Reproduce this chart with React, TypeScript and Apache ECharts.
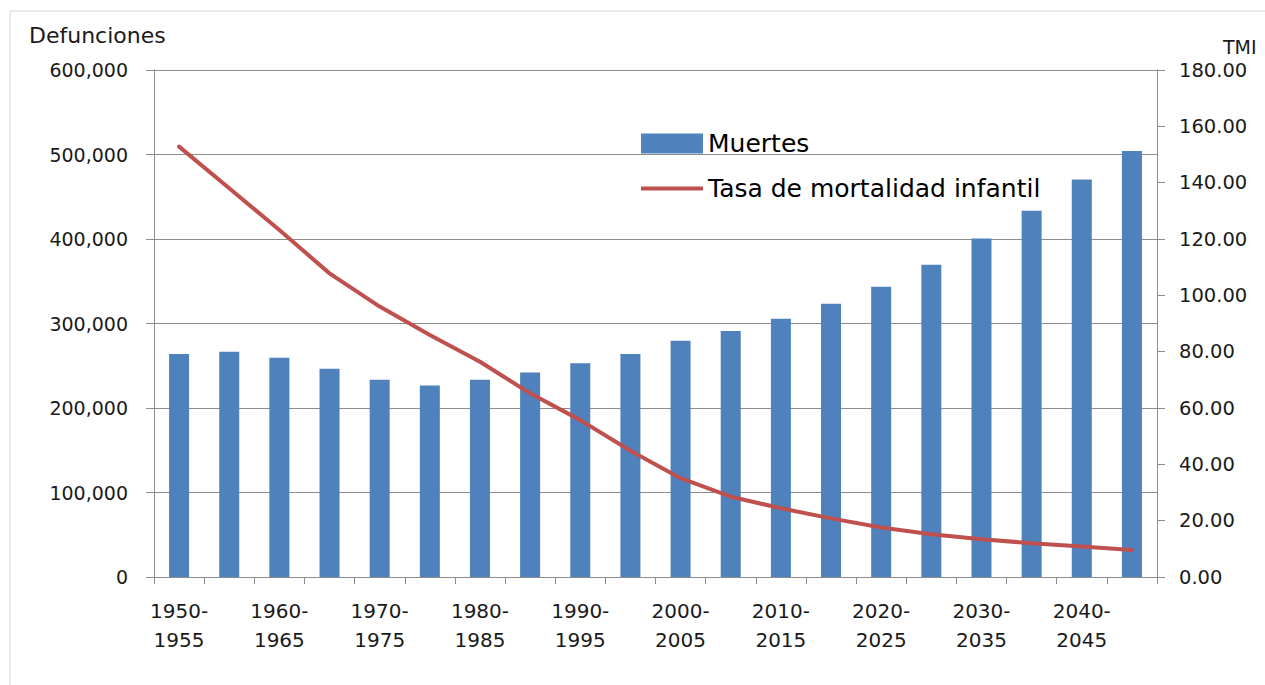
import React, { useEffect, useRef } from "react";
import * as echarts from "echarts";

const categories = [
  "1950-\n1955", "1955-\n1960", "1960-\n1965", "1965-\n1970", "1970-\n1975",
  "1975-\n1980", "1980-\n1985", "1985-\n1990", "1990-\n1995", "1995-\n2000",
  "2000-\n2005", "2005-\n2010", "2010-\n2015", "2015-\n2020", "2020-\n2025",
  "2025-\n2030", "2030-\n2035", "2035-\n2040", "2040-\n2045", "2045-\n2050",
];

const muertes = [
  264000, 266500, 259500, 246500, 233500, 226500, 233500, 242000, 253000, 264000,
  279500, 291000, 305500, 323500, 343500, 369500, 400500, 433500, 470500, 504000,
];

const tmi = [
  152.8, 138.0, 123.2, 107.8, 96.0, 85.9, 76.4, 65.2, 55.7, 44.8,
  35.1, 28.5, 24.4, 20.8, 17.6, 15.2, 13.4, 12.0, 10.8, 9.6,
];

const leftTicks = { min: 0, max: 600000, interval: 100000 };
const rightTicks = { min: 0, max: 180, interval: 20 };

const FONT = "DejaVu Sans";
const AXIS_GRAY = "#8c8c8c";
const TEXT = "#1a1a1a";

export default function App() {
  const ref = useRef<HTMLDivElement>(null);

  useEffect(() => {
    if (!ref.current) return;
    const chart = echarts.init(ref.current, undefined, { renderer: "svg" });
    chart.setOption({
      animation: false,
      backgroundColor: "#ffffff",
      textStyle: { fontFamily: FONT },
      grid: { left: 154, right: 108, top: 70, bottom: 108, containLabel: false },
      graphic: [
        {
          type: "rect",
          shape: { x: 10, y: 11, width: 1300, height: 700 },
          style: { fill: "none", stroke: "#d4d4d4", lineWidth: 1 },
          silent: true,
        },
        {
          type: "text",
          style: {
            text: "Defunciones",
            x: 29,
            y: 35,
            verticalAlign: "middle",
            font: `22px "${FONT}"`,
            fill: TEXT,
          },
        },
        {
          type: "text",
          style: {
            text: "TMI",
            x: 1223,
            y: 47,
            verticalAlign: "middle",
            font: `19px "${FONT}"`,
            fill: TEXT,
          },
        },
      ],
      legend: {
        orient: "vertical",
        left: 636,
        top: 126,
        itemWidth: 62,
        itemHeight: 20,
        itemGap: 20,
        symbolKeepAspect: true,
        textStyle: { fontFamily: FONT, fontSize: 25, color: "#000", lineHeight: 20 },
        data: [
          { name: "Muertes", icon: "rect" },
          { name: "Tasa de mortalidad infantil", icon: "path://M0,0L62,0L62,4L0,4Z" },
        ],
      },
      xAxis: {
        type: "category",
        data: categories,
        boundaryGap: true,
        axisLine: { show: true, lineStyle: { color: AXIS_GRAY, width: 1 } },
        axisTick: { show: true, length: 7, interval: 0, lineStyle: { color: AXIS_GRAY } },
        axisLabel: {
          interval: 1,
          margin: 19,
          fontSize: 20,
          lineHeight: 29,
          color: TEXT,
          fontFamily: FONT,
        },
        splitLine: { show: false },
      },
      yAxis: [
        {
          type: "value",
          min: leftTicks.min,
          max: leftTicks.max,
          interval: leftTicks.interval,
          axisLine: { show: true, lineStyle: { color: AXIS_GRAY, width: 1 } },
          axisTick: { show: true, length: 8, lineStyle: { color: AXIS_GRAY } },
          axisLabel: {
            margin: 26,
            fontSize: 19,
            color: TEXT,
            fontFamily: FONT,
            formatter: (v: number) => v.toLocaleString("en-US"),
          },
          splitLine: { show: true, lineStyle: { color: AXIS_GRAY, width: 1 } },
        },
        {
          type: "value",
          position: "right",
          min: rightTicks.min,
          max: rightTicks.max,
          interval: rightTicks.interval,
          axisLine: { show: true, lineStyle: { color: AXIS_GRAY, width: 1 } },
          axisTick: { show: true, length: 8, lineStyle: { color: AXIS_GRAY } },
          axisLabel: {
            margin: 22,
            fontSize: 19.5,
            color: TEXT,
            fontFamily: FONT,
            formatter: (v: number) => v.toFixed(2),
          },
          splitLine: { show: false },
        },
      ],
      series: [
        {
          name: "Muertes",
          type: "bar",
          data: muertes,
          yAxisIndex: 0,
          barWidth: 20,
          itemStyle: { color: "#4F81BD" },
        },
        {
          name: "Tasa de mortalidad infantil",
          type: "line",
          data: tmi,
          yAxisIndex: 1,
          symbol: "none",
          smooth: false,
          lineStyle: { color: "#C0504D", width: 4, cap: "round", join: "round" },
          itemStyle: { color: "#C0504D" },
        },
      ],
    });
    return () => chart.dispose();
  }, []);

  return (
    <div
      ref={ref}
      style={{ position: "fixed", left: 0, top: 0, width: 1265, height: 685 }}
    />
  );
}
